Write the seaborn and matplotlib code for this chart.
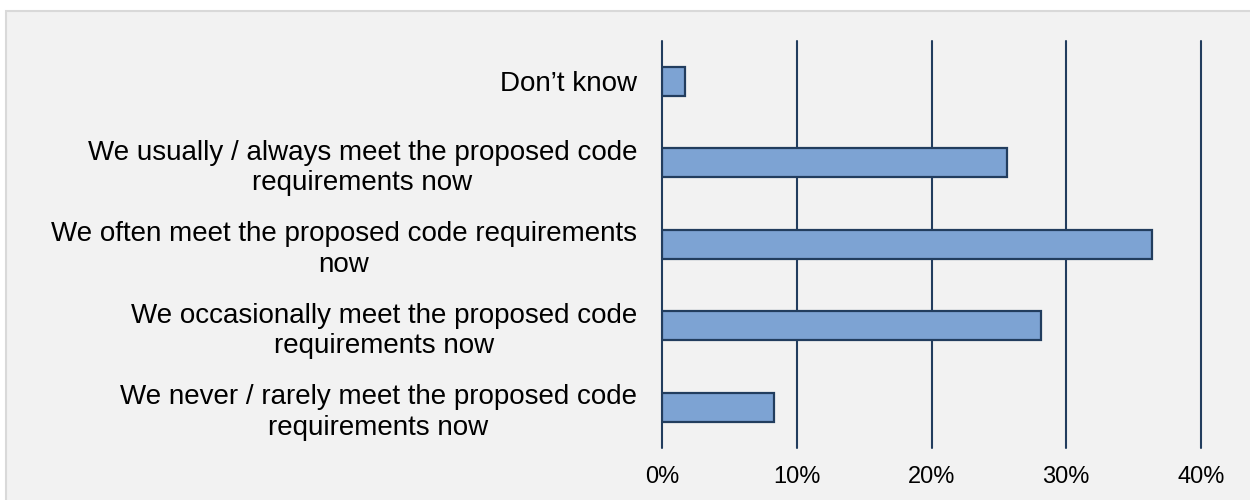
import matplotlib
matplotlib.use("Agg")
import matplotlib.pyplot as plt
import matplotlib.patches as mpatches
import pandas as pd
import seaborn as sns
from matplotlib.ticker import PercentFormatter

# Data
categories = [
    "Don\u2019t know",
    "We usually / always meet the proposed code\nrequirements now",
    "We often meet the proposed code requirements\nnow",
    "We occasionally meet the proposed code\nrequirements now",
    "We never / rarely meet the proposed code\nrequirements now",
]
shares = [1.7, 25.6, 36.4, 28.1, 8.3]
x_ticks = [0, 10, 20, 30, 40]

df = pd.DataFrame({"Category": categories, "Share": shares})

sns.set_theme(style="white")
plt.rcParams["font.family"] = ["Liberation Sans", "DejaVu Sans"]

BG = "#f2f2f2"
NAVY = "#223d5e"

fig = plt.figure(figsize=(12.5, 5), dpi=100)
fig.patch.set_facecolor("white")
# grey chart panel with light border
fig.patches.append(mpatches.Rectangle((6 / 1250, -0.05), 1.05, 1 - 11 / 500 + 0.05,
                                      transform=fig.transFigure, facecolor=BG,
                                      edgecolor="#d9d9d9", linewidth=1.5, zorder=-10))

ax = fig.add_axes([662 / 1250, 1 - 448 / 500, (1201 - 662) / 1250, (448 - 40.5) / 500])
ax.patch.set_alpha(0)

sns.barplot(data=df, x="Share", y="Category", orient="h", color="#7da3d3",
            saturation=1, width=0.36, edgecolor=NAVY, linewidth=1.6, ax=ax, zorder=3)

ax.set_xlim(0, 40)
ax.set_xticks(x_ticks)
ax.xaxis.set_major_formatter(PercentFormatter(decimals=0))
ax.grid(axis="x", color=NAVY, linewidth=1.5, zorder=0)
ax.set_axisbelow(True)
for gl in ax.get_xgridlines():
    gl.set_clip_on(False)
for s in ax.spines.values():
    s.set_visible(False)
ax.set_xlabel("")
ax.set_ylabel("")
ax.tick_params(axis="x", length=0, pad=13, labelsize=17, labelcolor="black")
ax.tick_params(axis="y", length=0, pad=18, labelsize=20, labelcolor="black")
for lbl in ax.get_yticklabels():
    lbl.set_multialignment("center")
    lbl.set_linespacing(1.22)

fig.savefig("out.png", dpi=100, facecolor=fig.get_facecolor())
